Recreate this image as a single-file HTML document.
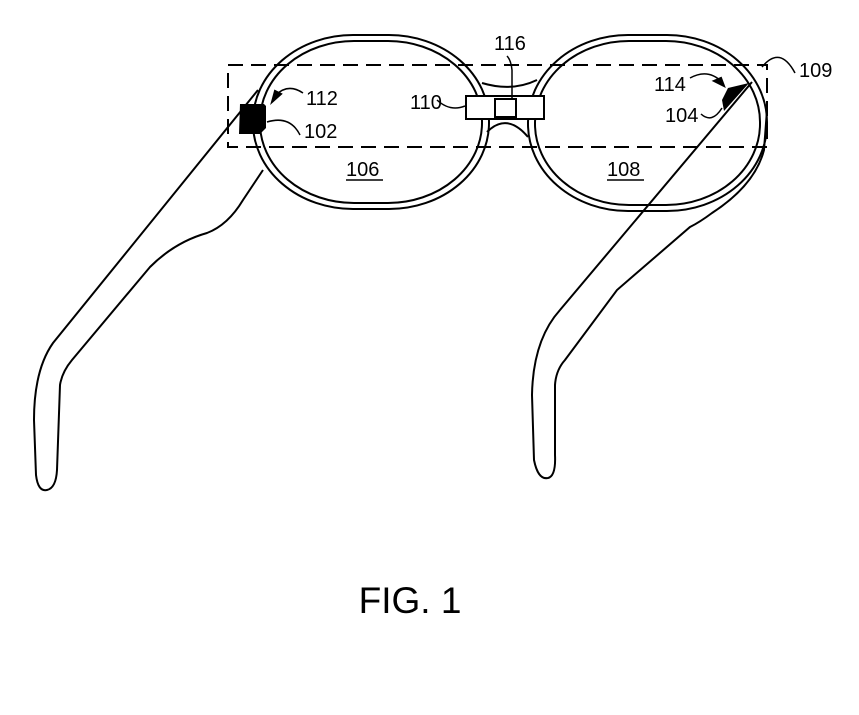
<!DOCTYPE html>
<html><head><style>
html,body{margin:0;padding:0;background:#fff;}
svg{display:block;}
text{font-family:"Liberation Sans",Arial,sans-serif;fill:#000;}
</style></head><body>
<svg width="859" height="715" viewBox="0 0 859 715" xmlns="http://www.w3.org/2000/svg">
<g fill="none" stroke="#000" stroke-width="2">
<!-- lenses -->
<rect x="253" y="35" width="236" height="174" rx="100" ry="86"/>
<rect x="260" y="41" width="222" height="162" rx="94" ry="80"/>
<rect x="528" y="35" width="239" height="176" rx="100" ry="87"/>
<rect x="535" y="41" width="225" height="164" rx="94" ry="81"/>
<!-- bridge -->
<path d="M482 83 Q512 92 537 80"/>
<path d="M487 132 Q507 112 528 137"/>
<!-- left temple -->
<path d="M258 90 L53 343 Q34 370 34 420 L36 475 Q38 492 47 490 Q56 488 57 470 L60 385 Q62 372 72 360 L150 267 Q175 242 207 233 Q228 225 243 200 L263 170"/>
<!-- right temple -->
<path d="M752 82 L560 310 Q533 340 532 395 L534 460 Q538 480 548 478 Q556 476 555 455 L555 385 Q556 370 565 360 L617 290 L690 227 Q700 222 712 213 Q755 185 764 150 L767 110"/>
<!-- bridge box -->
<rect x="466" y="96" width="78" height="23" fill="#fff"/>
<rect x="495" y="99" width="21" height="18"/>
<!-- leaders -->
<path d="M512 99 L512 70 Q511 60 507 56" stroke-width="1.5"/>
<path d="M465 106 Q450 112 437 100" stroke-width="1.5"/>
<path d="M303 93 Q288 83 276 95" stroke-width="1.5"/>
<path d="M300 135 Q290 115 267 122" stroke-width="1.5"/>
<path d="M690 78 Q708 68 722 82" stroke-width="1.5"/>
<path d="M701 114 Q712 124 722 108" stroke-width="1.5"/>
<path d="M795 73 Q780 45 762 67" stroke-width="1.5"/>
<!-- dashed box -->
<rect x="228" y="65" width="539" height="82" stroke-dasharray="15 8"/>
</g>
<!-- sensors -->
<path d="M240 104 L264 104 L266 106 L266 128 L260 134 L239 134 Z" fill="#000"/>
<path d="M728 88 L749 83 L724 111 L722 100 Z" fill="#000"/>
<path d="M272 102 L281 94 L275 91 Z" fill="#000" stroke="#000" stroke-width="2"/>
<path d="M724 86 L714 81 L721 78 Z" fill="#000" stroke="#000" stroke-width="2"/>
<g font-size="20">
<text x="306" y="105">112</text>
<text x="304" y="138">102</text>
<text x="410" y="109">110</text>
<text x="494" y="50">116</text>
<text x="654" y="91">114</text>
<text x="665" y="122">104</text>
<text x="799" y="77">109</text>
<text x="346" y="176">106</text>
<text x="607" y="176">108</text>
</g>
<line x1="346" y1="180" x2="383" y2="180" stroke="#000" stroke-width="1.5"/>
<line x1="607" y1="180" x2="644" y2="180" stroke="#000" stroke-width="1.5"/>
<text x="410" y="613" font-size="37" text-anchor="middle">FIG. 1</text>
</svg>
</body></html>
